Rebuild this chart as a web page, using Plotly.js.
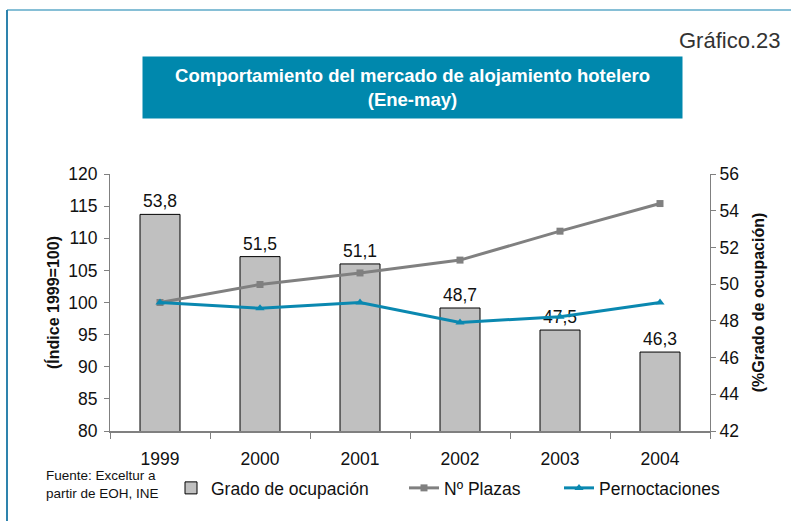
<!DOCTYPE html>
<html>
<head>
<meta charset="utf-8">
<script src="https://cdn.plot.ly/plotly-3.0.1.min.js"></script>
<style>
  html, body { margin: 0; padding: 0; background: #fff; }
  #chart { width: 791px; height: 521px; }
</style>
</head>
<body>
<div id="chart"></div>
<script>
const years = ['1999', '2000', '2001', '2002', '2003', '2004'];
const gradoOcupacion = [53.8, 51.5, 51.1, 48.7, 47.5, 46.3];
const plazas = [100, 102.8, 104.6, 106.6, 111.1, 115.4];
const pernoctaciones = [100, 99.1, 100, 96.9, 97.8, 100];
const gradoLabels = gradoOcupacion.map(v => v.toFixed(1).replace('.', ','));

const FONT = 'Arial, "Liberation Sans", sans-serif';
const TEAL = '#0a88b0';

// plot area is 110..710 x 174..431 px
function xp(px) { return (px - 110) / 600; }
function yp(py) { return (431 - py) / 257; }

const barTrace = {
  type: 'bar',
  x: years,
  y: gradoOcupacion,
  name: 'Grado de ocupación',
  yaxis: 'y',
  marker: { color: '#c0c0c0', line: { color: '#000', width: 1 } },
  text: gradoLabels,
  textposition: 'outside',
  textfont: { size: 17.5, color: '#111' },
  cliponaxis: false,
  showlegend: true,
  legend: 'legend'
};

const plazasTrace = {
  type: 'scatter',
  mode: 'lines+markers',
  x: years,
  y: plazas,
  name: 'Nº Plazas',
  yaxis: 'y2',
  line: { color: '#808080', width: 3 },
  marker: { symbol: 'square', size: 7, color: '#808080' },
  showlegend: true,
  legend: 'legend2'
};

const pernoctacionesTrace = {
  type: 'scatter',
  mode: 'lines+markers',
  x: years,
  y: pernoctaciones,
  name: 'Pernoctaciones',
  yaxis: 'y2',
  line: { color: TEAL, width: 3 },
  marker: { symbol: 'triangle-up', size: 8, color: TEAL },
  showlegend: true,
  legend: 'legend3'
};

const legendBase = {
  orientation: 'h',
  yanchor: 'middle',
  y: yp(488),
  xanchor: 'left',
  font: { size: 17.5, color: '#111' },
  bgcolor: 'rgba(0,0,0,0)'
};

const layout = {
  width: 791,
  height: 521,
  margin: { l: 110, r: 81, t: 174, b: 90 },
  paper_bgcolor: '#fff',
  plot_bgcolor: '#fff',
  font: { family: FONT, color: '#111' },
  showlegend: true,
  bargap: 0.6,
  xaxis: {
    type: 'category',
    tickson: 'boundaries',
    ticks: 'outside',
    ticklen: 6,
    tickcolor: '#808080',
    showline: true,
    linecolor: '#808080',
    linewidth: 1.5,
    showgrid: false,
    ticklabelstandoff: 11,
    tickfont: { size: 17.5 }
  },
  yaxis: {
    side: 'right',
    range: [42, 56],
    dtick: 2,
    ticks: 'outside',
    ticklen: 5,
    tickcolor: '#808080',
    showline: true,
    linecolor: '#808080',
    showgrid: false,
    zeroline: false,
    tickfont: { size: 17.5 },
    title: { text: '<b>(%Grado de ocupación)</b>', font: { size: 16 }, standoff: 14 }
  },
  yaxis2: {
    side: 'left',
    overlaying: 'y',
    range: [80, 120],
    dtick: 5,
    ticks: 'outside',
    ticklen: 5,
    tickcolor: '#808080',
    showline: true,
    linecolor: '#808080',
    showgrid: false,
    zeroline: false,
    ticklabelstandoff: 3,
    tickfont: { size: 17.5 },
    title: { text: '<b>(Índice 1999=100)</b>', font: { size: 16 }, standoff: 4 }
  },
  legend: Object.assign({}, legendBase, { x: xp(171) }),
  legend2: Object.assign({}, legendBase, { x: xp(404) }),
  legend3: Object.assign({}, legendBase, { x: xp(559) }),
  annotations: [
    {
      xref: 'paper', yref: 'paper',
      x: xp(412.5), y: yp(87.5),
      xanchor: 'center', yanchor: 'middle',
      text: '<b>Comportamiento del mercado de alojamiento hotelero<br>(Ene-may)</b>',
      showarrow: false,
      width: 539, height: 61,
      borderpad: 0,
      bgcolor: '#0088ad',
      font: { size: 18.5, color: '#fff' }
    },
    {
      xref: 'paper', yref: 'paper',
      x: xp(783), y: yp(40),
      xanchor: 'right', yanchor: 'middle',
      text: 'Gráfico.23',
      showarrow: false,
      font: { size: 22, color: '#333' }
    },
    {
      xref: 'paper', yref: 'paper',
      x: xp(44), y: yp(484),
      xanchor: 'left', yanchor: 'middle',
      align: 'left',
      text: 'Fuente: Exceltur a<br>partir de EOH, INE',
      showarrow: false,
      font: { size: 13.5, color: '#111' }
    }
  ],
  shapes: [
    { type: 'line', xref: 'paper', yref: 'paper', x0: xp(7), x1: xp(791), y0: yp(10), y1: yp(10),
      line: { color: '#86bfd6', width: 2 } },
    { type: 'line', xref: 'paper', yref: 'paper', x0: xp(7), x1: xp(7), y0: yp(10), y1: yp(521),
      line: { color: '#2e83ad', width: 2 } }
  ]
};

Plotly.newPlot('chart', [barTrace, plazasTrace, pernoctacionesTrace], layout, { displayModeBar: false });
</script>
</body>
</html>
